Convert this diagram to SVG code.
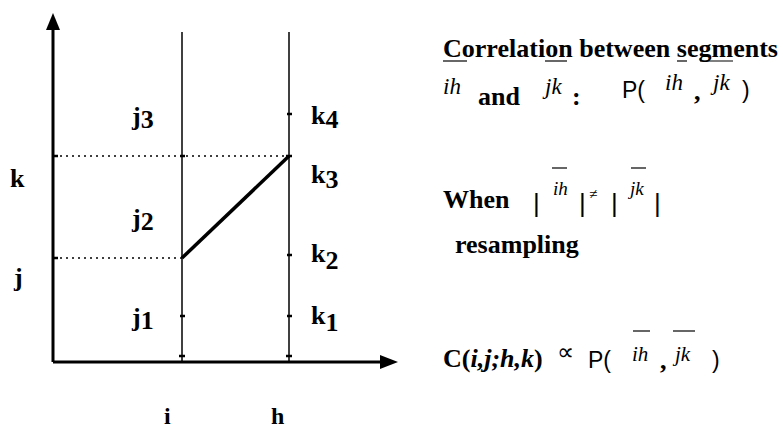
<svg xmlns="http://www.w3.org/2000/svg" width="783" height="431" viewBox="0 0 783 431">
<style>
.ax{stroke:#000;stroke-width:3;fill:none}
.vl{stroke:#000;stroke-width:1.5;fill:none}
.dot{stroke:#000;stroke-width:1.5;stroke-dasharray:2 4;fill:none}
.tk{stroke:#000;stroke-width:2.5}
.lb{font-family:"Liberation Serif",serif;font-weight:bold;font-size:26px;fill:#000}
.tx{font-family:"Liberation Serif",serif;font-weight:bold;font-size:26px;fill:#000}
.it{font-family:"Liberation Serif",serif;font-style:italic;font-size:23px;fill:#000}
.its{font-family:"Liberation Serif",serif;font-style:italic;font-size:19px;fill:#000}
.rho{font-family:"Liberation Sans",sans-serif;font-size:23px;fill:#000}
.bar{font-family:"Liberation Sans",sans-serif;font-size:26px;fill:#000}
.ol{stroke:#000;stroke-width:1.2}
</style>
<rect width="783" height="431" fill="#fff"/>
<g id="axes">
<line class="ax" x1="53" y1="362" x2="53" y2="28"/>
<polygon points="53,13 46,30 60,30" fill="#000"/>
<line class="ax" x1="53" y1="362" x2="384" y2="362"/>
<polygon points="398,362 380,355 380,369" fill="#000"/>
</g>
<g id="connectors">
<line class="vl" x1="182" y1="32" x2="182" y2="362"/>
<line class="vl" x1="289" y1="32" x2="289" y2="362"/>
<line class="dot" x1="60" y1="156" x2="289" y2="156"/>
<line class="dot" x1="60" y1="258" x2="182" y2="258"/>
<line x1="182" y1="258" x2="289" y2="156" stroke="#000" stroke-width="3.5"/>
<g class="tk">
<line x1="53" y1="156" x2="58" y2="156"/>
<line x1="53" y1="258" x2="58" y2="258"/>
<line x1="180" y1="156" x2="185" y2="156"/>
<line x1="180" y1="316" x2="185" y2="316"/>
<line x1="179" y1="356" x2="185" y2="356"/>
<line x1="287" y1="114" x2="292" y2="114"/>
<line x1="286" y1="156" x2="292" y2="156"/>
<line x1="287" y1="255" x2="292" y2="255"/>
<line x1="287" y1="316" x2="292" y2="316"/>
<line x1="286" y1="356" x2="292" y2="356"/>
</g>
</g>
<g id="labels">
<text class="lb" x="10" y="187">k</text>
<text class="lb" x="14" y="286">j</text>
<text class="lb" x="132" y="125">j<tspan dy="3">3</tspan></text>
<text class="lb" x="132" y="227">j<tspan dy="3">2</tspan></text>
<text class="lb" x="132" y="326">j<tspan dy="3">1</tspan></text>
<text class="lb" x="311" y="124">k<tspan dy="4">4</tspan></text>
<text class="lb" x="311" y="183">k<tspan dy="5">3</tspan></text>
<text class="lb" x="311" y="262">k<tspan dy="7">2</tspan></text>
<text class="lb" x="311" y="324">k<tspan dy="7">1</tspan></text>
<text class="lb" x="164" y="424" style="font-size:24px">i</text>
<text class="lb" x="271" y="424" style="font-size:24px">h</text>
</g>
<g id="text-corr">
<text class="tx" x="443" y="57" textLength="335" lengthAdjust="spacingAndGlyphs">Correlation between segments</text>
<g class="ol">
<line x1="443" y1="61" x2="467" y2="61"/>
<line x1="545" y1="61" x2="567" y2="61"/>
<line x1="677" y1="61" x2="687" y2="61"/>
<line x1="700" y1="61" x2="733" y2="61"/>
</g>
<text class="it" x="443" y="94">ih</text>
<text class="tx" x="478" y="105">and</text>
<text class="it" x="545" y="94">jk</text>
<text class="tx" x="572" y="105">:</text>
<text class="rho" x="622" y="98">Ρ(</text>
<text class="it" x="665" y="90">ih</text>
<text class="tx" x="694" y="100">,</text>
<text class="it" x="713" y="90">jk</text>
<text class="rho" x="742" y="98">)</text>
</g>
<g id="text-when">
<text class="tx" x="443" y="208">When</text>
<text class="bar" x="533" y="212">|</text>
<text class="its" x="553" y="195">ih</text>
<text class="bar" x="579" y="212">|</text>
<text class="its" x="589" y="199" style="font-size:15px">≠</text>
<text class="bar" x="611" y="212">|</text>
<text class="its" x="630" y="195">jk</text>
<text class="bar" x="654" y="212">|</text>
<line class="ol" x1="552" y1="168" x2="567" y2="168"/>
<line class="ol" x1="631" y1="168" x2="646" y2="168"/>
<text class="tx" x="455" y="253">resampling</text>
</g>
<g id="text-c">
<text class="tx" x="443" y="367">C(<tspan font-style="italic">i,j;h,k</tspan>)</text>
<text class="tx" x="557" y="360" style="font-size:24px;font-weight:normal">∝</text>
<text class="rho" x="588" y="368">Ρ(</text>
<text class="it" x="632" y="361" style="font-size:21px">ih</text>
<line class="ol" x1="633" y1="331" x2="650" y2="331"/>
<text class="tx" x="660" y="369">,</text>
<text class="it" x="675" y="361" style="font-size:21px">jk</text>
<line class="ol" x1="673" y1="331" x2="695" y2="331"/>
<text class="rho" x="712" y="368">)</text>
</g>
</svg>
